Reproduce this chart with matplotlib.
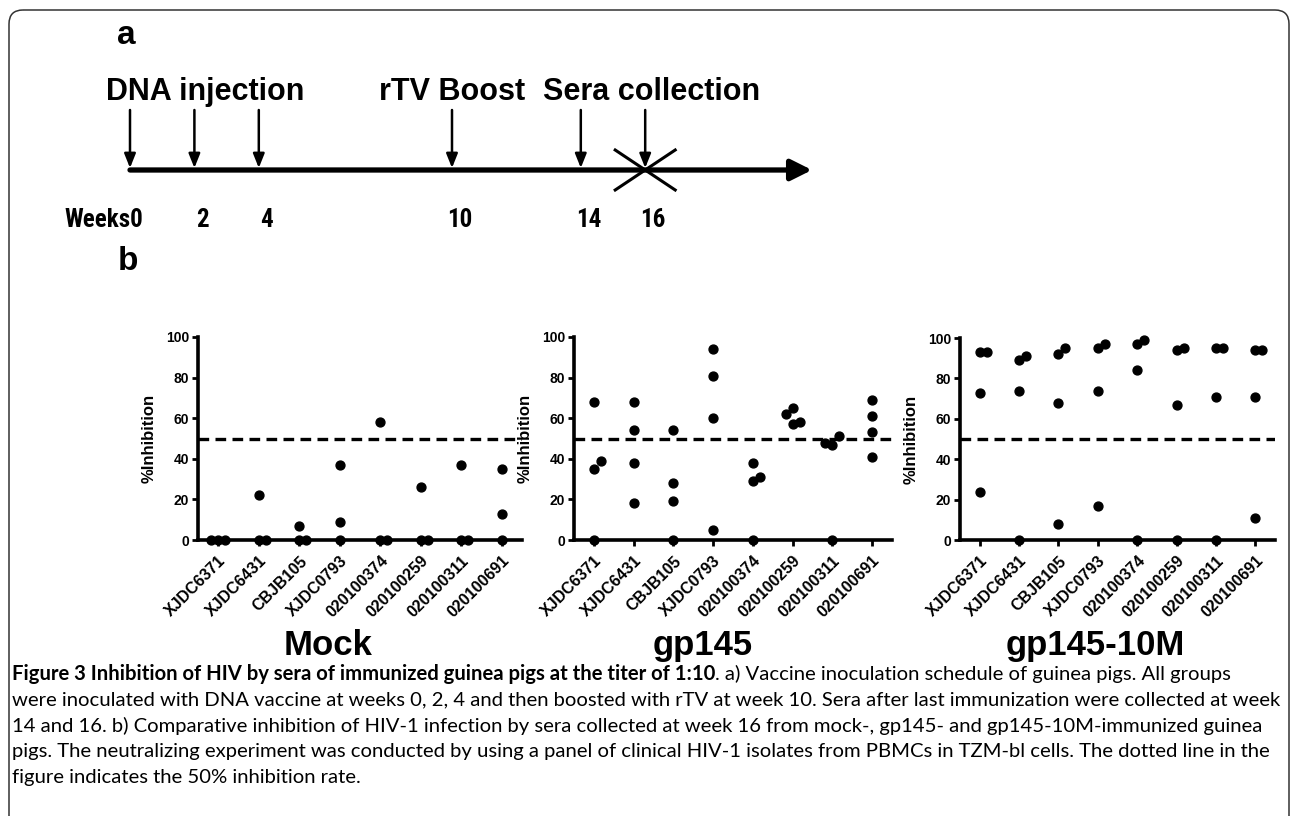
import matplotlib
matplotlib.use("Agg")
import matplotlib.pyplot as plt
from matplotlib import font_manager
from matplotlib.patches import FancyBboxPatch

# ---- data ----
isolates = ["XJDC6371", "XJDC6431", "CBJB105", "XJDC0793",
            "020100374", "020100259", "020100311", "020100691"]
groups = ["Mock", "gp145", "gp145-10M"]

mock = [[0, 0, 0], [22, 0, 0], [7, 0, 0], [37, 9, 0],
        [58, 0, 0], [26, 0, 0], [37, 0, 0], [35, 13, 0]]
gp145 = [[68, 35, 39, 0], [68, 54, 38, 18], [54, 28, 19, 0], [94, 81, 60, 5],
         [38, 29, 31, 0], [65, 57, 58, 62], [47, 51, 48, 0], [69, 61, 53, 41]]
gp145_10m = [[93, 93, 73, 24], [89, 91, 74, 0], [92, 95, 68, 8], [95, 97, 74, 17],
             [97, 99, 84, 0], [94, 95, 67, 0], [95, 95, 71, 0], [94, 94, 71, 11]]
threshold = 50

dna_weeks = [0, 2, 4]
boost_weeks = [10]
sera_weeks = [14, 16]
week_ticks = [0, 2, 4, 10, 14, 16]

caption_bold = "Figure 3 Inhibition of HIV by sera of immunized guinea pigs at the titer of 1:10"
caption_lines = [
    ". a) Vaccine inoculation schedule of guinea pigs. All groups",
    "were inoculated with DNA vaccine at weeks 0, 2, 4 and then boosted with rTV at week 10. Sera after last immunization were collected at week",
    "14 and 16. b) Comparative inhibition of HIV-1 infection by sera collected at week 16 from mock-, gp145- and gp145-10M-immunized guinea",
    "pigs. The neutralizing experiment was conducted by using a panel of clinical HIV-1 isolates from PBMCs in TZM-bl cells. The dotted line in the",
    "figure indicates the 50% inhibition rate.",
]


def pick_font(cands):
    names = {f.name for f in font_manager.fontManager.ttflist}
    for c in cands:
        if c in names:
            return c
    return "DejaVu Sans"


ARIAL = pick_font(["Liberation Sans", "DejaVu Sans"])
NARROW = pick_font(["Liberation Sans Narrow", "Roboto Condensed", "Liberation Sans"])
CAPFONT = pick_font(["Lato", "Open Sans", "DejaVu Sans"])
plt.rcParams["font.family"] = ARIAL

W, H = 1290, 816
fig = plt.figure(figsize=(W / 100, H / 100), dpi=100)


def px_rect(left, top, right, bottom):
    return [left / W, 1 - bottom / H, (right - left) / W, (bottom - top) / H]


# background axes in pixel units (border, letters, titles, caption)
bg = fig.add_axes([0, 0, 1, 1])
bg.set_xlim(0, W)
bg.set_ylim(H, 0)
bg.axis("off")
bg.add_patch(FancyBboxPatch((9, 10), 1280, 840, boxstyle="round,pad=0,rounding_size=14",
                            fc="none", ec="#333333", lw=1.1, clip_on=False))

bg.text(126, 36, "a", fontsize=24, fontweight="bold", ha="center", va="center")
bg.text(128, 262, "b", fontsize=24, fontweight="bold", ha="center", va="center")

# ---- panel a: timeline (x in weeks) ----
px_per_week = 32.2
x0 = 130
tl = fig.add_axes([0, 0, 1, 1])
tl.set_xlim(-x0 / px_per_week, (W - x0) / px_per_week)
tl.set_ylim(H, 0)
tl.axis("off")
line_y = 170
tip = (812 - x0) / px_per_week
tl.annotate("", xy=(tip, line_y), xytext=(0, line_y),
            arrowprops=dict(arrowstyle="-|>,head_length=0.7,head_width=0.35",
                            lw=3.8, color="k", mutation_scale=18, shrinkA=0, shrinkB=0))
for w in dna_weeks + boost_weeks + sera_weeks:
    tl.annotate("", xy=(w, line_y - 2), xytext=(w, 110),
                arrowprops=dict(arrowstyle="-|>,head_length=0.5,head_width=0.2",
                                lw=1.8, color="k", mutation_scale=17, shrinkA=0, shrinkB=0))
xw = 30 / px_per_week
last = sera_weeks[-1]
tl.plot([last - xw, last + xw], [line_y - 20, line_y + 20], color="k", lw=2.2)
tl.plot([last - xw, last + xw], [line_y + 20, line_y - 20], color="k", lw=2.2)

tl.text(2.35, 100, "DNA injection", fontsize=22, fontweight="bold", ha="center", va="baseline")
tl.text(10, 100, "rTV Boost", fontsize=22, fontweight="bold", ha="center", va="baseline")
tl.text(16.2, 100, "Sera collection", fontsize=22, fontweight="bold", ha="center", va="baseline")
for w in week_ticks:
    if w == 0:
        tl.text(w + 0.42, 227, "Weeks" + str(w), fontsize=18, fontweight="bold",
                family=NARROW, ha="right", va="baseline")
    else:
        tl.text(w + 0.25, 227, str(w), fontsize=18, fontweight="bold",
                family=NARROW, ha="center", va="baseline")

# ---- panel b: scatter ----
rects = [(198, 337, 522, 540), (574, 337, 892, 540), (960, 338, 1275, 540)]
datasets = [mock, gp145, gp145_10m]
title_x = [328, 703, 1095]


def swarm_slots(vals, px_per_unit, thresh=9.0):
    placed = []
    slots = []
    for v in vals:
        for s in [0, 1, -1, 2, -2]:
            if all(not (ps == s and abs(v - pv) * px_per_unit < thresh) for ps, pv in placed):
                break
        placed.append((s, v))
        slots.append(s)
    return slots


for (l, t, r, b), data, name, tx in zip(rects, datasets, groups, title_x):
    ax = fig.add_axes(px_rect(l, t, r, b))
    ax.set_xlim(-0.5, len(isolates) - 0.5)
    ax.set_ylim(0, 100)
    ppx = (r - l) / len(isolates)
    ppy = (b - t) / 100
    d = 7 / ppx
    xs, ys = [], []
    for i, vals in enumerate(data):
        for s, v in zip(swarm_slots(vals, ppy), vals):
            xs.append(i + s * d)
            ys.append(v)
    ax.plot(xs, ys, "o", color="k", ms=6.4, mec="k", clip_on=False, zorder=4)
    ax.axhline(threshold, color="k", lw=2.4, ls=(0, (3.2, 1.9)), zorder=2)

    for sp in ["top", "right"]:
        ax.spines[sp].set_visible(False)
    for sp in ["left", "bottom"]:
        ax.spines[sp].set_linewidth(2.6)
    ax.set_yticks([0, 20, 40, 60, 80, 100])
    ax.set_yticklabels([str(v) for v in [0, 20, 40, 60, 80, 100]],
                       fontsize=10, fontweight="bold")
    ax.set_xticks(range(len(isolates)))
    ax.set_xticklabels(isolates, rotation=45, ha="right", rotation_mode="anchor",
                       fontsize=11.5, fontweight="bold")
    ax.tick_params(axis="both", direction="out", length=4.5, width=2, pad=2)
    ax.tick_params(axis="x", pad=5)
    ax.set_ylabel("%Inhibition", fontsize=12, fontweight="bold", va="center")
    ax.yaxis.set_label_coords(-49 / (r - l), 0.5)

    bg.text(tx, 655, name, fontsize=25, fontweight="bold", ha="center", va="baseline")

# ---- caption ----
renderer = fig.canvas.get_renderer()
cap_left, cap_right = 12, 1284
line_ys = [674, 700, 726, 752, 778]
probe = bg.text(0, 0, caption_lines[1], fontsize=10, family=CAPFONT)
wid = probe.get_window_extent(renderer).width
probe.remove()
cap_size = 10 * (cap_right - cap_left) / wid

tb = bg.text(cap_left, line_ys[0], caption_bold, fontsize=cap_size, family=CAPFONT,
             fontweight="bold", va="center")
bx = tb.get_window_extent(renderer).x1
bg.text(bx, line_ys[0], caption_lines[0], fontsize=cap_size, family=CAPFONT, va="center")
for y, txt in zip(line_ys[1:], caption_lines[1:]):
    bg.text(cap_left, y, txt, fontsize=cap_size, family=CAPFONT, va="center")

fig.savefig("out.png", dpi=100)
